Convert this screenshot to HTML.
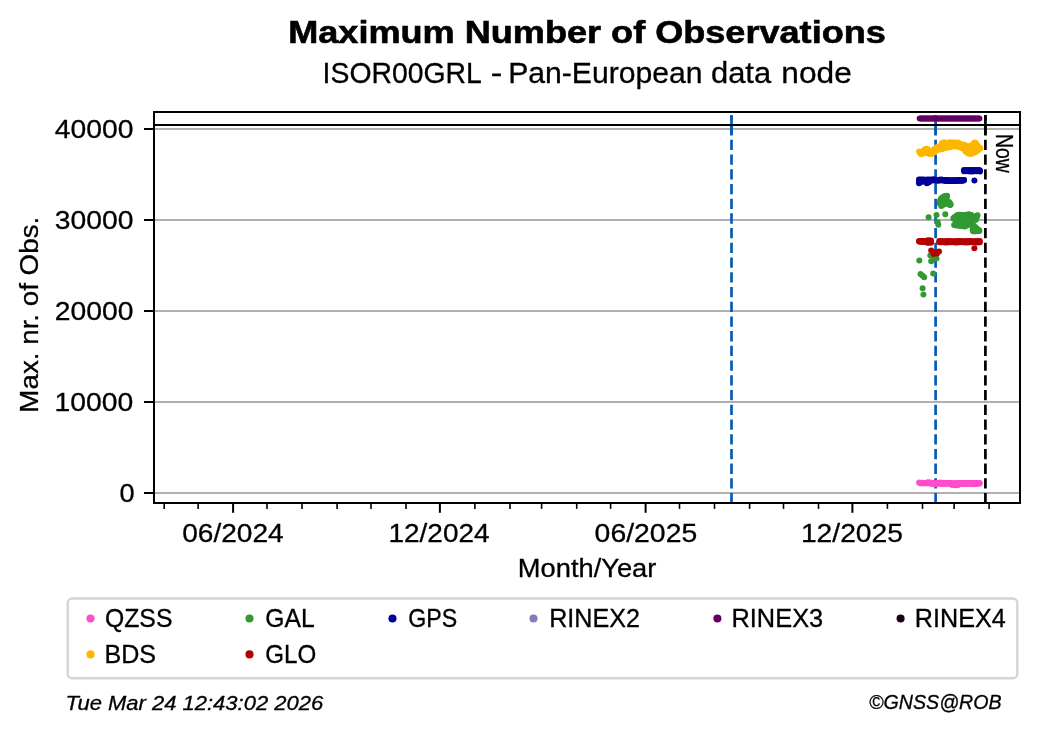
<!DOCTYPE html>
<html><head><meta charset="utf-8"><title>Maximum Number of Observations</title>
<style>html,body{margin:0;padding:0;background:#fff;}svg{display:block;will-change:transform;}</style></head>
<body>
<svg width="1040" height="734" viewBox="0 0 1040 734">
<rect width="1040" height="734" fill="#fff"/>
<g font-family="Liberation Sans, sans-serif" fill="#000">
<text transform="translate(288.21,42.9) scale(1.1431,1)" font-size="31.59" font-weight="bold" stroke="#000" stroke-width="0.6">Maximum Number of Observations</text>
<text transform="translate(322.59,82.8) scale(0.9373,1)" font-size="30.29" stroke="#000" stroke-width="0.3">ISOR00GRL</text>
<text transform="translate(490.65,82.8) scale(1.15,1)" font-size="30.29" stroke="#000" stroke-width="0.3">-</text>
<text transform="translate(508.21,82.8) scale(0.9953,1)" font-size="30.29" stroke="#000" stroke-width="0.3">Pan-European</text>
<text transform="translate(710.98,82.8) scale(1.0207,1)" font-size="30.29" stroke="#000" stroke-width="0.3">data</text>
<text transform="translate(781.31,82.8) scale(1.0469,1)" font-size="30.29" stroke="#000" stroke-width="0.3">node</text>
<line x1="154" y1="129" x2="1020" y2="129" stroke="#b0b0b0" stroke-width="2.2"/>
<line x1="154" y1="220" x2="1020" y2="220" stroke="#b0b0b0" stroke-width="2.2"/>
<line x1="154" y1="311" x2="1020" y2="311" stroke="#b0b0b0" stroke-width="2.2"/>
<line x1="154" y1="402" x2="1020" y2="402" stroke="#b0b0b0" stroke-width="2.2"/>
<line x1="154" y1="493" x2="1020" y2="493" stroke="#b0b0b0" stroke-width="2.2"/>
<line x1="731.5" y1="503.32" x2="731.5" y2="115.2" stroke="#065bb5" stroke-width="2.7" stroke-dasharray="10.28 4.44"/><line x1="731.5" y1="115.2" x2="731.5" y2="135.32" stroke="#065bb5" stroke-width="2.7"/>
<line x1="935.6" y1="503.32" x2="935.6" y2="115.2" stroke="#065bb5" stroke-width="2.7" stroke-dasharray="10.28 4.44"/><line x1="935.6" y1="115.2" x2="935.6" y2="135.32" stroke="#065bb5" stroke-width="2.7"/>
<line x1="985.4" y1="503.32" x2="985.4" y2="115.2" stroke="#000" stroke-width="2.7" stroke-dasharray="10.28 4.44"/><line x1="985.4" y1="115.2" x2="985.4" y2="135.32" stroke="#000" stroke-width="2.7"/>
<g fill="#ff4ccc"><circle cx="919.1" cy="482.5" r="3.0"/><circle cx="920.2" cy="483.2" r="3.0"/><circle cx="921.3" cy="482.7" r="3.0"/><circle cx="922.5" cy="483.4" r="3.0"/><circle cx="923.6" cy="482.7" r="3.0"/><circle cx="924.7" cy="483.1" r="3.0"/><circle cx="925.8" cy="483.4" r="3.0"/><circle cx="926.9" cy="482.7" r="3.0"/><circle cx="928.1" cy="483.3" r="3.0"/><circle cx="928.1" cy="482.3" r="3.0"/><circle cx="929.2" cy="482.8" r="3.0"/><circle cx="929.2" cy="483.0" r="3.0"/><circle cx="930.3" cy="483.5" r="3.0"/><circle cx="930.3" cy="482.4" r="3.0"/><circle cx="931.4" cy="483.1" r="3.0"/><circle cx="931.4" cy="483.4" r="3.0"/><circle cx="932.5" cy="483.8" r="3.0"/><circle cx="932.5" cy="483.2" r="3.0"/><circle cx="933.7" cy="483.0" r="3.0"/><circle cx="933.7" cy="483.0" r="3.0"/><circle cx="934.8" cy="483.5" r="3.0"/><circle cx="934.8" cy="484.0" r="3.0"/><circle cx="935.9" cy="483.8" r="3.0"/><circle cx="935.9" cy="483.3" r="3.0"/><circle cx="937.0" cy="483.0" r="3.0"/><circle cx="937.0" cy="483.8" r="3.0"/><circle cx="938.1" cy="483.6" r="3.0"/><circle cx="938.1" cy="482.9" r="3.0"/><circle cx="939.3" cy="483.0" r="3.0"/><circle cx="939.3" cy="483.3" r="3.0"/><circle cx="940.4" cy="483.7" r="3.0"/><circle cx="940.4" cy="482.5" r="3.0"/><circle cx="941.5" cy="483.2" r="3.0"/><circle cx="941.5" cy="483.3" r="3.0"/><circle cx="942.6" cy="483.9" r="3.0"/><circle cx="942.6" cy="483.0" r="3.0"/><circle cx="943.7" cy="483.1" r="3.0"/><circle cx="943.7" cy="482.7" r="3.0"/><circle cx="944.9" cy="483.5" r="3.0"/><circle cx="944.9" cy="483.5" r="3.0"/><circle cx="946.0" cy="483.8" r="3.0"/><circle cx="946.0" cy="482.9" r="3.0"/><circle cx="947.1" cy="483.0" r="3.0"/><circle cx="947.1" cy="483.5" r="3.0"/><circle cx="948.2" cy="483.6" r="3.0"/><circle cx="948.2" cy="482.9" r="3.0"/><circle cx="949.4" cy="483.0" r="3.0"/><circle cx="949.4" cy="483.4" r="3.0"/><circle cx="950.5" cy="483.7" r="3.0"/><circle cx="950.5" cy="483.1" r="3.0"/><circle cx="951.6" cy="483.2" r="3.0"/><circle cx="951.6" cy="484.8" r="3.0"/><circle cx="952.7" cy="483.9" r="3.0"/><circle cx="952.7" cy="484.7" r="3.0"/><circle cx="953.8" cy="483.1" r="3.0"/><circle cx="953.8" cy="484.4" r="3.0"/><circle cx="955.0" cy="483.5" r="3.0"/><circle cx="955.0" cy="485.2" r="3.0"/><circle cx="956.1" cy="483.8" r="3.0"/><circle cx="956.1" cy="484.6" r="3.0"/><circle cx="957.2" cy="483.0" r="3.0"/><circle cx="957.2" cy="485.2" r="3.0"/><circle cx="958.3" cy="483.6" r="3.0"/><circle cx="958.3" cy="484.5" r="3.0"/><circle cx="959.4" cy="483.0" r="3.0"/><circle cx="959.4" cy="484.3" r="3.0"/><circle cx="960.6" cy="483.7" r="3.0"/><circle cx="960.6" cy="482.9" r="3.0"/><circle cx="961.7" cy="483.2" r="3.0"/><circle cx="961.7" cy="483.7" r="3.0"/><circle cx="962.8" cy="483.9" r="3.0"/><circle cx="962.8" cy="483.3" r="3.0"/><circle cx="963.9" cy="483.1" r="3.0"/><circle cx="963.9" cy="483.0" r="3.0"/><circle cx="965.0" cy="483.5" r="3.0"/><circle cx="965.0" cy="483.8" r="3.0"/><circle cx="966.2" cy="483.8" r="3.0"/><circle cx="966.2" cy="483.2" r="3.0"/><circle cx="967.3" cy="483.0" r="3.0"/><circle cx="967.3" cy="483.8" r="3.0"/><circle cx="968.4" cy="483.6" r="3.0"/><circle cx="968.4" cy="483.1" r="3.0"/><circle cx="969.5" cy="483.0" r="3.0"/><circle cx="969.5" cy="483.6" r="3.0"/><circle cx="970.6" cy="483.7" r="3.0"/><circle cx="970.6" cy="482.9" r="3.0"/><circle cx="971.8" cy="483.2" r="3.0"/><circle cx="971.8" cy="483.7" r="3.0"/><circle cx="972.9" cy="483.9" r="3.0"/><circle cx="972.9" cy="483.3" r="3.0"/><circle cx="974.0" cy="483.1" r="3.0"/><circle cx="974.0" cy="483.0" r="3.0"/><circle cx="975.1" cy="483.5" r="3.0"/><circle cx="975.1" cy="483.8" r="3.0"/><circle cx="976.2" cy="483.8" r="3.0"/><circle cx="976.2" cy="483.2" r="3.0"/><circle cx="977.4" cy="483.0" r="3.0"/><circle cx="977.4" cy="483.8" r="3.0"/><circle cx="978.5" cy="483.6" r="3.0"/><circle cx="978.5" cy="483.1" r="3.0"/><circle cx="979.6" cy="483.0" r="3.0"/><circle cx="979.6" cy="483.6" r="3.0"/></g>
<g fill="#fdb700"><circle cx="919.1" cy="151.6" r="3.0"/><circle cx="920.2" cy="151.9" r="3.0"/><circle cx="920.2" cy="152.7" r="3.0"/><circle cx="920.2" cy="153.3" r="3.0"/><circle cx="921.4" cy="151.9" r="3.0"/><circle cx="921.4" cy="153.1" r="3.0"/><circle cx="921.4" cy="154.3" r="3.0"/><circle cx="922.5" cy="152.3" r="3.0"/><circle cx="922.5" cy="152.9" r="3.0"/><circle cx="922.5" cy="153.8" r="3.0"/><circle cx="923.6" cy="150.2" r="3.0"/><circle cx="923.6" cy="151.9" r="3.0"/><circle cx="923.6" cy="152.8" r="3.0"/><circle cx="924.8" cy="149.6" r="3.0"/><circle cx="924.8" cy="151.0" r="3.0"/><circle cx="924.8" cy="152.8" r="3.0"/><circle cx="925.9" cy="149.1" r="3.0"/><circle cx="925.9" cy="150.1" r="3.0"/><circle cx="925.9" cy="151.4" r="3.0"/><circle cx="927.0" cy="148.8" r="3.0"/><circle cx="927.0" cy="150.8" r="3.0"/><circle cx="927.0" cy="152.9" r="3.0"/><circle cx="928.2" cy="150.2" r="3.0"/><circle cx="928.2" cy="151.7" r="3.0"/><circle cx="928.2" cy="153.2" r="3.0"/><circle cx="929.3" cy="150.7" r="3.0"/><circle cx="929.3" cy="152.5" r="3.0"/><circle cx="929.3" cy="154.1" r="3.0"/><circle cx="930.4" cy="152.5" r="3.0"/><circle cx="930.4" cy="153.1" r="3.0"/><circle cx="930.4" cy="153.6" r="3.0"/><circle cx="931.5" cy="152.6" r="3.0"/><circle cx="931.5" cy="154.0" r="3.0"/><circle cx="932.7" cy="151.8" r="3.0"/><circle cx="932.7" cy="152.1" r="3.0"/><circle cx="932.7" cy="152.9" r="3.0"/><circle cx="933.8" cy="149.4" r="3.0"/><circle cx="933.8" cy="151.0" r="3.0"/><circle cx="933.8" cy="152.0" r="3.0"/><circle cx="934.9" cy="148.7" r="3.0"/><circle cx="934.9" cy="150.0" r="3.0"/><circle cx="934.9" cy="151.8" r="3.0"/><circle cx="936.1" cy="148.1" r="3.0"/><circle cx="936.1" cy="149.0" r="3.0"/><circle cx="936.1" cy="150.1" r="3.0"/><circle cx="937.2" cy="147.0" r="3.0"/><circle cx="937.2" cy="148.6" r="3.0"/><circle cx="937.2" cy="150.3" r="3.0"/><circle cx="938.3" cy="147.3" r="3.0"/><circle cx="938.3" cy="148.3" r="3.0"/><circle cx="938.3" cy="149.2" r="3.0"/><circle cx="939.5" cy="146.5" r="3.0"/><circle cx="939.5" cy="148.0" r="3.0"/><circle cx="939.5" cy="149.4" r="3.0"/><circle cx="940.6" cy="145.9" r="3.0"/><circle cx="940.6" cy="147.3" r="3.0"/><circle cx="940.6" cy="148.5" r="3.0"/><circle cx="941.7" cy="143.2" r="3.0"/><circle cx="941.7" cy="145.1" r="3.0"/><circle cx="941.7" cy="147.2" r="3.0"/><circle cx="941.7" cy="149.2" r="3.0"/><circle cx="942.9" cy="143.2" r="3.0"/><circle cx="942.9" cy="144.5" r="3.0"/><circle cx="942.9" cy="146.7" r="3.0"/><circle cx="942.9" cy="148.4" r="3.0"/><circle cx="944.0" cy="142.2" r="3.0"/><circle cx="944.0" cy="144.2" r="3.0"/><circle cx="944.0" cy="146.3" r="3.0"/><circle cx="944.0" cy="147.6" r="3.0"/><circle cx="945.1" cy="143.4" r="3.0"/><circle cx="945.1" cy="144.7" r="3.0"/><circle cx="945.1" cy="146.5" r="3.0"/><circle cx="945.1" cy="148.3" r="3.0"/><circle cx="946.3" cy="144.2" r="3.0"/><circle cx="946.3" cy="145.8" r="3.0"/><circle cx="946.3" cy="147.5" r="3.0"/><circle cx="947.4" cy="143.0" r="3.0"/><circle cx="947.4" cy="145.3" r="3.0"/><circle cx="947.4" cy="147.6" r="3.0"/><circle cx="948.5" cy="143.2" r="3.0"/><circle cx="948.5" cy="145.0" r="3.0"/><circle cx="948.5" cy="146.7" r="3.0"/><circle cx="949.7" cy="142.3" r="3.0"/><circle cx="949.7" cy="144.0" r="3.0"/><circle cx="949.7" cy="145.7" r="3.0"/><circle cx="949.7" cy="147.2" r="3.0"/><circle cx="950.8" cy="142.9" r="3.0"/><circle cx="950.8" cy="144.6" r="3.0"/><circle cx="950.8" cy="146.2" r="3.0"/><circle cx="951.9" cy="142.4" r="3.0"/><circle cx="951.9" cy="144.4" r="3.0"/><circle cx="951.9" cy="146.5" r="3.0"/><circle cx="953.0" cy="143.2" r="3.0"/><circle cx="953.0" cy="144.3" r="3.0"/><circle cx="953.0" cy="145.9" r="3.0"/><circle cx="954.2" cy="142.5" r="3.0"/><circle cx="954.2" cy="144.3" r="3.0"/><circle cx="954.2" cy="145.4" r="3.0"/><circle cx="955.3" cy="142.8" r="3.0"/><circle cx="955.3" cy="144.4" r="3.0"/><circle cx="955.3" cy="146.5" r="3.0"/><circle cx="956.4" cy="143.1" r="3.0"/><circle cx="956.4" cy="144.4" r="3.0"/><circle cx="956.4" cy="146.0" r="3.0"/><circle cx="957.6" cy="142.4" r="3.0"/><circle cx="957.6" cy="144.5" r="3.0"/><circle cx="957.6" cy="146.6" r="3.0"/><circle cx="958.7" cy="143.5" r="3.0"/><circle cx="958.7" cy="144.9" r="3.0"/><circle cx="958.7" cy="146.3" r="3.0"/><circle cx="959.8" cy="143.5" r="3.0"/><circle cx="959.8" cy="145.5" r="3.0"/><circle cx="959.8" cy="147.3" r="3.0"/><circle cx="961.0" cy="144.7" r="3.0"/><circle cx="961.0" cy="146.0" r="3.0"/><circle cx="961.0" cy="147.0" r="3.0"/><circle cx="962.1" cy="144.6" r="3.0"/><circle cx="962.1" cy="146.4" r="3.0"/><circle cx="962.1" cy="148.2" r="3.0"/><circle cx="963.2" cy="145.4" r="3.0"/><circle cx="963.2" cy="146.7" r="3.0"/><circle cx="963.2" cy="148.4" r="3.0"/><circle cx="964.4" cy="144.8" r="3.0"/><circle cx="964.4" cy="146.4" r="3.0"/><circle cx="964.4" cy="148.1" r="3.0"/><circle cx="964.4" cy="149.0" r="3.0"/><circle cx="965.5" cy="145.6" r="3.0"/><circle cx="965.5" cy="147.2" r="3.0"/><circle cx="965.5" cy="149.3" r="3.0"/><circle cx="965.5" cy="151.4" r="3.0"/><circle cx="966.6" cy="146.3" r="3.0"/><circle cx="966.6" cy="147.9" r="3.0"/><circle cx="966.6" cy="150.2" r="3.0"/><circle cx="966.6" cy="151.9" r="3.0"/><circle cx="967.8" cy="145.9" r="3.0"/><circle cx="967.8" cy="148.4" r="3.0"/><circle cx="967.8" cy="150.9" r="3.0"/><circle cx="967.8" cy="153.3" r="3.0"/><circle cx="968.9" cy="146.7" r="3.0"/><circle cx="968.9" cy="148.1" r="3.0"/><circle cx="968.9" cy="150.0" r="3.0"/><circle cx="968.9" cy="151.9" r="3.0"/><circle cx="968.9" cy="153.1" r="3.0"/><circle cx="970.0" cy="146.3" r="3.0"/><circle cx="970.0" cy="148.3" r="3.0"/><circle cx="970.0" cy="150.2" r="3.0"/><circle cx="970.0" cy="152.2" r="3.0"/><circle cx="970.0" cy="154.0" r="3.0"/><circle cx="971.1" cy="146.3" r="3.0"/><circle cx="971.1" cy="147.6" r="3.0"/><circle cx="971.1" cy="149.7" r="3.0"/><circle cx="971.1" cy="151.7" r="3.0"/><circle cx="971.1" cy="152.9" r="3.0"/><circle cx="972.3" cy="144.8" r="3.0"/><circle cx="972.3" cy="146.8" r="3.0"/><circle cx="972.3" cy="149.0" r="3.0"/><circle cx="972.3" cy="151.2" r="3.0"/><circle cx="972.3" cy="153.4" r="3.0"/><circle cx="973.4" cy="143.9" r="3.0"/><circle cx="973.4" cy="145.1" r="3.0"/><circle cx="973.4" cy="147.1" r="3.0"/><circle cx="973.4" cy="149.2" r="3.0"/><circle cx="973.4" cy="151.2" r="3.0"/><circle cx="973.4" cy="152.8" r="3.0"/><circle cx="974.5" cy="142.4" r="3.0"/><circle cx="974.5" cy="144.4" r="3.0"/><circle cx="974.5" cy="146.5" r="3.0"/><circle cx="974.5" cy="148.6" r="3.0"/><circle cx="974.5" cy="150.7" r="3.0"/><circle cx="974.5" cy="152.0" r="3.0"/><circle cx="975.7" cy="142.9" r="3.0"/><circle cx="975.7" cy="144.8" r="3.0"/><circle cx="975.7" cy="147.2" r="3.0"/><circle cx="975.7" cy="149.6" r="3.0"/><circle cx="975.7" cy="152.0" r="3.0"/><circle cx="976.8" cy="144.7" r="3.0"/><circle cx="976.8" cy="146.3" r="3.0"/><circle cx="976.8" cy="148.8" r="3.0"/><circle cx="976.8" cy="150.6" r="3.0"/><circle cx="977.9" cy="145.9" r="3.0"/><circle cx="977.9" cy="148.2" r="3.0"/><circle cx="977.9" cy="150.4" r="3.0"/><circle cx="979.1" cy="147.7" r="3.0"/><circle cx="979.1" cy="148.8" r="3.0"/><circle cx="980.2" cy="148.2" r="3.0"/><circle cx="980.2" cy="148.4" r="3.0"/></g>
<g fill="#339933"><circle cx="947.1" cy="196.0" r="3.0"/><circle cx="947.3" cy="201.0" r="3.0"/><circle cx="948.8" cy="201.9" r="3.0"/><circle cx="949.7" cy="203.0" r="3.0"/><circle cx="950.4" cy="204.7" r="3.0"/><circle cx="950.1" cy="205.1" r="3.0"/><circle cx="949.7" cy="204.4" r="3.0"/><circle cx="944.9" cy="203.5" r="3.0"/><circle cx="943.2" cy="204.7" r="3.0"/><circle cx="941.4" cy="205.9" r="3.0"/><circle cx="941.2" cy="204.9" r="3.0"/><circle cx="940.0" cy="203.6" r="3.0"/><circle cx="939.9" cy="203.0" r="3.0"/><circle cx="940.2" cy="201.2" r="3.0"/><circle cx="940.6" cy="199.4" r="3.0"/><circle cx="941.1" cy="198.5" r="3.0"/><circle cx="942.4" cy="197.6" r="3.0"/><circle cx="943.2" cy="197.0" r="3.0"/><circle cx="944.9" cy="196.3" r="3.0"/><circle cx="946.6" cy="195.7" r="3.0"/><circle cx="944.6" cy="196.2" r="3.0"/><circle cx="946.6" cy="196.2" r="3.0"/><circle cx="942.6" cy="198.2" r="3.0"/><circle cx="944.6" cy="198.2" r="3.0"/><circle cx="940.6" cy="200.2" r="3.0"/><circle cx="942.6" cy="200.2" r="3.0"/><circle cx="944.6" cy="200.2" r="3.0"/><circle cx="946.6" cy="200.2" r="3.0"/><circle cx="940.6" cy="202.2" r="3.0"/><circle cx="942.6" cy="202.2" r="3.0"/><circle cx="944.6" cy="202.2" r="3.0"/><circle cx="946.6" cy="202.2" r="3.0"/><circle cx="948.6" cy="202.2" r="3.0"/><circle cx="940.6" cy="204.2" r="3.0"/><circle cx="942.6" cy="204.2" r="3.0"/><circle cx="944.6" cy="204.2" r="3.0"/><circle cx="948.6" cy="204.2" r="3.0"/><circle cx="950.6" cy="204.2" r="3.0"/><circle cx="928.6" cy="217.3" r="3.0"/><circle cx="936.5" cy="215.1" r="3.0"/><circle cx="945.3" cy="214.3" r="3.0"/><circle cx="937.6" cy="222.0" r="3.0"/><circle cx="938.3" cy="224.8" r="3.0"/><circle cx="953.3" cy="218.6" r="3.0"/><circle cx="954.1" cy="217.4" r="3.0"/><circle cx="955.5" cy="216.5" r="3.0"/><circle cx="957.0" cy="215.6" r="3.0"/><circle cx="958.4" cy="214.7" r="3.0"/><circle cx="960.0" cy="214.7" r="3.0"/><circle cx="963.2" cy="215.2" r="3.0"/><circle cx="965.0" cy="215.0" r="3.0"/><circle cx="966.8" cy="214.8" r="3.0"/><circle cx="968.7" cy="214.7" r="3.0"/><circle cx="968.9" cy="214.2" r="3.0"/><circle cx="970.6" cy="215.0" r="3.0"/><circle cx="972.3" cy="215.8" r="3.0"/><circle cx="976.9" cy="216.2" r="3.0"/><circle cx="976.5" cy="217.2" r="3.0"/><circle cx="976.3" cy="218.9" r="3.0"/><circle cx="975.4" cy="220.1" r="3.0"/><circle cx="973.6" cy="226.1" r="3.0"/><circle cx="975.0" cy="227.3" r="3.0"/><circle cx="976.4" cy="228.4" r="3.0"/><circle cx="977.8" cy="229.5" r="3.0"/><circle cx="979.2" cy="230.7" r="3.0"/><circle cx="979.1" cy="230.7" r="3.0"/><circle cx="979.3" cy="230.6" r="3.0"/><circle cx="977.5" cy="230.9" r="3.0"/><circle cx="975.7" cy="231.1" r="3.0"/><circle cx="973.9" cy="231.3" r="3.0"/><circle cx="973.1" cy="230.9" r="3.0"/><circle cx="972.6" cy="229.6" r="3.0"/><circle cx="968.6" cy="224.4" r="3.0"/><circle cx="966.8" cy="225.2" r="3.0"/><circle cx="965.1" cy="226.0" r="3.0"/><circle cx="965.0" cy="226.5" r="3.0"/><circle cx="963.2" cy="226.3" r="3.0"/><circle cx="961.5" cy="226.0" r="3.0"/><circle cx="959.7" cy="225.7" r="3.0"/><circle cx="957.9" cy="225.4" r="3.0"/><circle cx="956.0" cy="225.2" r="3.0"/><circle cx="954.1" cy="224.9" r="3.0"/><circle cx="955.6" cy="220.0" r="3.0"/><circle cx="954.2" cy="218.8" r="3.0"/><circle cx="957.5" cy="215.3" r="3.0"/><circle cx="959.5" cy="215.3" r="3.0"/><circle cx="961.5" cy="215.3" r="3.0"/><circle cx="963.5" cy="215.3" r="3.0"/><circle cx="965.5" cy="215.3" r="3.0"/><circle cx="967.5" cy="215.3" r="3.0"/><circle cx="969.5" cy="215.3" r="3.0"/><circle cx="971.5" cy="215.3" r="3.0"/><circle cx="977.5" cy="215.3" r="3.0"/><circle cx="955.5" cy="217.3" r="3.0"/><circle cx="957.5" cy="217.3" r="3.0"/><circle cx="959.5" cy="217.3" r="3.0"/><circle cx="961.5" cy="217.3" r="3.0"/><circle cx="963.5" cy="217.3" r="3.0"/><circle cx="965.5" cy="217.3" r="3.0"/><circle cx="967.5" cy="217.3" r="3.0"/><circle cx="969.5" cy="217.3" r="3.0"/><circle cx="971.5" cy="217.3" r="3.0"/><circle cx="973.5" cy="217.3" r="3.0"/><circle cx="975.5" cy="217.3" r="3.0"/><circle cx="955.5" cy="219.3" r="3.0"/><circle cx="957.5" cy="219.3" r="3.0"/><circle cx="959.5" cy="219.3" r="3.0"/><circle cx="961.5" cy="219.3" r="3.0"/><circle cx="963.5" cy="219.3" r="3.0"/><circle cx="965.5" cy="219.3" r="3.0"/><circle cx="967.5" cy="219.3" r="3.0"/><circle cx="969.5" cy="219.3" r="3.0"/><circle cx="971.5" cy="219.3" r="3.0"/><circle cx="973.5" cy="219.3" r="3.0"/><circle cx="975.5" cy="219.3" r="3.0"/><circle cx="957.5" cy="221.3" r="3.0"/><circle cx="959.5" cy="221.3" r="3.0"/><circle cx="961.5" cy="221.3" r="3.0"/><circle cx="963.5" cy="221.3" r="3.0"/><circle cx="965.5" cy="221.3" r="3.0"/><circle cx="967.5" cy="221.3" r="3.0"/><circle cx="969.5" cy="221.3" r="3.0"/><circle cx="971.5" cy="221.3" r="3.0"/><circle cx="973.5" cy="221.3" r="3.0"/><circle cx="957.5" cy="223.3" r="3.0"/><circle cx="959.5" cy="223.3" r="3.0"/><circle cx="961.5" cy="223.3" r="3.0"/><circle cx="963.5" cy="223.3" r="3.0"/><circle cx="965.5" cy="223.3" r="3.0"/><circle cx="967.5" cy="223.3" r="3.0"/><circle cx="969.5" cy="223.3" r="3.0"/><circle cx="971.5" cy="223.3" r="3.0"/><circle cx="955.5" cy="225.3" r="3.0"/><circle cx="957.5" cy="225.3" r="3.0"/><circle cx="959.5" cy="225.3" r="3.0"/><circle cx="961.5" cy="225.3" r="3.0"/><circle cx="963.5" cy="225.3" r="3.0"/><circle cx="965.5" cy="225.3" r="3.0"/><circle cx="967.5" cy="225.3" r="3.0"/><circle cx="973.5" cy="227.3" r="3.0"/><circle cx="975.5" cy="227.3" r="3.0"/><circle cx="973.5" cy="229.3" r="3.0"/><circle cx="975.5" cy="229.3" r="3.0"/><circle cx="977.5" cy="229.3" r="3.0"/><circle cx="973.5" cy="231.3" r="3.0"/><circle cx="975.5" cy="231.3" r="3.0"/><circle cx="977.5" cy="231.3" r="3.0"/><circle cx="927.5" cy="240.5" r="3.0"/><circle cx="927.5" cy="243.0" r="3.0"/><circle cx="930.3" cy="255.5" r="3.0"/><circle cx="935.3" cy="258.0" r="3.0"/><circle cx="931.2" cy="261.3" r="3.0"/><circle cx="936.5" cy="258.4" r="3.0"/><circle cx="933.8" cy="257.0" r="3.0"/><circle cx="919.3" cy="260.4" r="3.0"/><circle cx="933.2" cy="273.5" r="3.0"/><circle cx="920.5" cy="274.0" r="3.0"/><circle cx="922.3" cy="275.6" r="3.0"/><circle cx="924.2" cy="277.2" r="3.0"/><circle cx="922.6" cy="288.2" r="3.0"/><circle cx="923.4" cy="294.4" r="3.0"/></g>
<g fill="#b40000"><circle cx="919.1" cy="241.1" r="3.0"/><circle cx="919.1" cy="241.6" r="3.0"/><circle cx="920.2" cy="241.8" r="3.0"/><circle cx="920.2" cy="240.9" r="3.0"/><circle cx="921.3" cy="241.3" r="3.0"/><circle cx="921.3" cy="241.7" r="3.0"/><circle cx="922.3" cy="242.0" r="3.0"/><circle cx="922.3" cy="241.3" r="3.0"/><circle cx="923.4" cy="241.2" r="3.0"/><circle cx="923.4" cy="241.0" r="3.0"/><circle cx="924.5" cy="241.6" r="3.0"/><circle cx="924.5" cy="241.8" r="3.0"/><circle cx="925.6" cy="241.9" r="3.0"/><circle cx="925.6" cy="241.2" r="3.0"/><circle cx="926.7" cy="240.8" r="3.0"/><circle cx="926.7" cy="242.1" r="3.0"/><circle cx="927.8" cy="240.9" r="3.0"/><circle cx="927.8" cy="242.0" r="3.0"/><circle cx="928.8" cy="240.2" r="3.0"/><circle cx="928.8" cy="241.5" r="3.0"/><circle cx="928.8" cy="242.6" r="3.0"/><circle cx="929.9" cy="240.9" r="3.0"/><circle cx="929.9" cy="241.5" r="3.0"/><circle cx="929.9" cy="241.9" r="3.0"/><circle cx="931.0" cy="240.4" r="3.0"/><circle cx="931.0" cy="241.5" r="3.0"/><circle cx="931.0" cy="242.7" r="3.0"/><circle cx="939.3" cy="241.1" r="3.0"/><circle cx="939.3" cy="242.2" r="3.0"/><circle cx="940.4" cy="241.8" r="3.0"/><circle cx="940.4" cy="241.5" r="3.0"/><circle cx="941.5" cy="241.3" r="3.0"/><circle cx="941.5" cy="242.3" r="3.0"/><circle cx="942.7" cy="242.0" r="3.0"/><circle cx="942.7" cy="241.9" r="3.0"/><circle cx="943.8" cy="241.2" r="3.0"/><circle cx="943.8" cy="241.6" r="3.0"/><circle cx="944.9" cy="241.6" r="3.0"/><circle cx="944.9" cy="242.4" r="3.0"/><circle cx="946.0" cy="241.9" r="3.0"/><circle cx="946.0" cy="241.8" r="3.0"/><circle cx="947.2" cy="241.1" r="3.0"/><circle cx="947.2" cy="242.4" r="3.0"/><circle cx="948.3" cy="241.7" r="3.0"/><circle cx="948.3" cy="241.7" r="3.0"/><circle cx="949.4" cy="241.1" r="3.0"/><circle cx="949.4" cy="242.2" r="3.0"/><circle cx="950.5" cy="241.8" r="3.0"/><circle cx="950.5" cy="241.5" r="3.0"/><circle cx="951.7" cy="241.3" r="3.0"/><circle cx="951.7" cy="242.3" r="3.0"/><circle cx="952.8" cy="242.0" r="3.0"/><circle cx="952.8" cy="241.9" r="3.0"/><circle cx="953.9" cy="241.2" r="3.0"/><circle cx="953.9" cy="241.6" r="3.0"/><circle cx="955.0" cy="241.6" r="3.0"/><circle cx="955.0" cy="242.4" r="3.0"/><circle cx="956.2" cy="241.9" r="3.0"/><circle cx="956.2" cy="241.8" r="3.0"/><circle cx="957.3" cy="241.1" r="3.0"/><circle cx="957.3" cy="242.4" r="3.0"/><circle cx="958.4" cy="241.7" r="3.0"/><circle cx="958.4" cy="241.7" r="3.0"/><circle cx="959.5" cy="241.1" r="3.0"/><circle cx="959.5" cy="242.2" r="3.0"/><circle cx="960.7" cy="241.8" r="3.0"/><circle cx="960.7" cy="241.5" r="3.0"/><circle cx="961.8" cy="241.3" r="3.0"/><circle cx="961.8" cy="242.3" r="3.0"/><circle cx="962.9" cy="242.0" r="3.0"/><circle cx="962.9" cy="241.9" r="3.0"/><circle cx="964.0" cy="241.2" r="3.0"/><circle cx="964.0" cy="241.6" r="3.0"/><circle cx="965.2" cy="241.6" r="3.0"/><circle cx="965.2" cy="242.4" r="3.0"/><circle cx="966.3" cy="241.9" r="3.0"/><circle cx="966.3" cy="241.8" r="3.0"/><circle cx="967.4" cy="241.1" r="3.0"/><circle cx="967.4" cy="242.4" r="3.0"/><circle cx="968.5" cy="241.7" r="3.0"/><circle cx="968.5" cy="241.7" r="3.0"/><circle cx="969.7" cy="241.1" r="3.0"/><circle cx="969.7" cy="242.2" r="3.0"/><circle cx="970.8" cy="241.8" r="3.0"/><circle cx="970.8" cy="241.5" r="3.0"/><circle cx="971.9" cy="241.3" r="3.0"/><circle cx="971.9" cy="242.3" r="3.0"/><circle cx="973.0" cy="242.0" r="3.0"/><circle cx="973.0" cy="241.9" r="3.0"/><circle cx="974.2" cy="241.2" r="3.0"/><circle cx="974.2" cy="241.6" r="3.0"/><circle cx="975.3" cy="241.6" r="3.0"/><circle cx="975.3" cy="242.4" r="3.0"/><circle cx="976.4" cy="241.9" r="3.0"/><circle cx="976.4" cy="241.8" r="3.0"/><circle cx="977.5" cy="241.1" r="3.0"/><circle cx="977.5" cy="242.4" r="3.0"/><circle cx="978.7" cy="241.7" r="3.0"/><circle cx="978.7" cy="241.7" r="3.0"/><circle cx="979.8" cy="241.1" r="3.0"/><circle cx="979.8" cy="242.2" r="3.0"/><circle cx="974.4" cy="248.3" r="3.0"/><circle cx="931.2" cy="250.6" r="3.0"/><circle cx="935.3" cy="252.3" r="3.0"/><circle cx="939.0" cy="251.4" r="3.0"/><circle cx="933.6" cy="253.9" r="3.0"/><circle cx="937.0" cy="253.5" r="3.0"/></g>
<g fill="#000096"><circle cx="919.0" cy="179.6" r="3.0"/><circle cx="919.0" cy="181.5" r="3.0"/><circle cx="919.0" cy="183.2" r="3.0"/><circle cx="920.1" cy="179.8" r="3.0"/><circle cx="920.1" cy="181.2" r="3.0"/><circle cx="920.1" cy="182.4" r="3.0"/><circle cx="921.2" cy="179.4" r="3.0"/><circle cx="921.2" cy="180.6" r="3.0"/><circle cx="921.2" cy="181.9" r="3.0"/><circle cx="922.4" cy="180.3" r="3.0"/><circle cx="922.4" cy="180.5" r="3.0"/><circle cx="923.5" cy="179.6" r="3.0"/><circle cx="923.5" cy="179.8" r="3.0"/><circle cx="924.6" cy="180.0" r="3.0"/><circle cx="924.6" cy="181.3" r="3.0"/><circle cx="925.8" cy="180.1" r="3.0"/><circle cx="925.8" cy="181.1" r="3.0"/><circle cx="925.8" cy="182.2" r="3.0"/><circle cx="926.9" cy="179.4" r="3.0"/><circle cx="926.9" cy="181.3" r="3.0"/><circle cx="926.9" cy="183.2" r="3.0"/><circle cx="928.0" cy="180.2" r="3.0"/><circle cx="928.0" cy="181.4" r="3.0"/><circle cx="928.0" cy="182.5" r="3.0"/><circle cx="929.1" cy="179.4" r="3.0"/><circle cx="929.1" cy="180.8" r="3.0"/><circle cx="929.1" cy="182.0" r="3.0"/><circle cx="930.2" cy="180.0" r="3.0"/><circle cx="930.2" cy="180.4" r="3.0"/><circle cx="931.4" cy="179.6" r="3.0"/><circle cx="931.4" cy="180.6" r="3.0"/><circle cx="932.5" cy="180.3" r="3.0"/><circle cx="932.5" cy="179.9" r="3.0"/><circle cx="933.6" cy="179.4" r="3.0"/><circle cx="933.6" cy="179.6" r="3.0"/><circle cx="934.8" cy="180.1" r="3.0"/><circle cx="934.8" cy="180.4" r="3.0"/><circle cx="935.9" cy="180.8" r="3.0"/><circle cx="935.9" cy="179.8" r="3.0"/><circle cx="937.0" cy="180.0" r="3.0"/><circle cx="937.0" cy="180.5" r="3.0"/><circle cx="938.1" cy="180.6" r="3.0"/><circle cx="938.1" cy="179.9" r="3.0"/><circle cx="939.2" cy="179.7" r="3.0"/><circle cx="939.2" cy="180.4" r="3.0"/><circle cx="940.4" cy="180.2" r="3.0"/><circle cx="940.4" cy="179.7" r="3.0"/><circle cx="941.5" cy="179.6" r="3.0"/><circle cx="941.5" cy="180.3" r="3.0"/><circle cx="942.6" cy="180.4" r="3.0"/><circle cx="942.6" cy="180.0" r="3.0"/><circle cx="943.8" cy="180.0" r="3.0"/><circle cx="943.8" cy="179.9" r="3.0"/><circle cx="944.9" cy="180.5" r="3.0"/><circle cx="944.9" cy="180.8" r="3.0"/><circle cx="946.0" cy="180.9" r="3.0"/><circle cx="946.0" cy="180.2" r="3.0"/><circle cx="947.1" cy="180.1" r="3.0"/><circle cx="947.1" cy="180.9" r="3.0"/><circle cx="948.2" cy="180.7" r="3.0"/><circle cx="948.2" cy="180.3" r="3.0"/><circle cx="949.4" cy="180.2" r="3.0"/><circle cx="949.4" cy="180.9" r="3.0"/><circle cx="950.5" cy="180.9" r="3.0"/><circle cx="950.5" cy="180.2" r="3.0"/><circle cx="951.6" cy="180.4" r="3.0"/><circle cx="951.6" cy="181.0" r="3.0"/><circle cx="952.8" cy="181.0" r="3.0"/><circle cx="952.8" cy="180.5" r="3.0"/><circle cx="953.9" cy="180.2" r="3.0"/><circle cx="953.9" cy="180.2" r="3.0"/><circle cx="955.0" cy="180.6" r="3.0"/><circle cx="955.0" cy="181.0" r="3.0"/><circle cx="956.1" cy="180.9" r="3.0"/><circle cx="956.1" cy="180.4" r="3.0"/><circle cx="957.2" cy="180.0" r="3.0"/><circle cx="957.2" cy="180.9" r="3.0"/><circle cx="958.4" cy="180.6" r="3.0"/><circle cx="958.4" cy="180.2" r="3.0"/><circle cx="959.5" cy="180.0" r="3.0"/><circle cx="959.5" cy="180.7" r="3.0"/><circle cx="960.6" cy="180.6" r="3.0"/><circle cx="960.6" cy="179.9" r="3.0"/><circle cx="961.8" cy="180.1" r="3.0"/><circle cx="961.8" cy="180.7" r="3.0"/><circle cx="962.9" cy="180.8" r="3.0"/><circle cx="962.9" cy="180.3" r="3.0"/><circle cx="964.0" cy="180.0" r="3.0"/><circle cx="964.0" cy="180.0" r="3.0"/><circle cx="974.4" cy="180.5" r="3.0"/><circle cx="964.0" cy="169.9" r="3.0"/><circle cx="964.0" cy="171.2" r="3.0"/><circle cx="965.1" cy="170.6" r="3.0"/><circle cx="965.1" cy="170.5" r="3.0"/><circle cx="966.3" cy="170.1" r="3.0"/><circle cx="966.3" cy="171.3" r="3.0"/><circle cx="967.4" cy="170.8" r="3.0"/><circle cx="967.4" cy="170.9" r="3.0"/><circle cx="968.6" cy="170.0" r="3.0"/><circle cx="968.6" cy="170.6" r="3.0"/><circle cx="969.7" cy="170.4" r="3.0"/><circle cx="969.7" cy="171.4" r="3.0"/><circle cx="970.9" cy="170.7" r="3.0"/><circle cx="970.9" cy="170.8" r="3.0"/><circle cx="972.0" cy="169.9" r="3.0"/><circle cx="972.0" cy="171.4" r="3.0"/><circle cx="973.1" cy="170.5" r="3.0"/><circle cx="973.1" cy="170.7" r="3.0"/><circle cx="974.3" cy="169.9" r="3.0"/><circle cx="974.3" cy="171.2" r="3.0"/><circle cx="975.4" cy="170.6" r="3.0"/><circle cx="975.4" cy="170.5" r="3.0"/><circle cx="976.6" cy="170.1" r="3.0"/><circle cx="976.6" cy="171.3" r="3.0"/><circle cx="977.7" cy="170.8" r="3.0"/><circle cx="977.7" cy="170.9" r="3.0"/><circle cx="978.9" cy="170.0" r="3.0"/><circle cx="978.9" cy="170.6" r="3.0"/><circle cx="980.0" cy="170.4" r="3.0"/><circle cx="980.0" cy="171.4" r="3.0"/></g>
<g fill="#660066"><circle cx="919.7" cy="118.4" r="3.0"/><circle cx="920.8" cy="118.4" r="3.0"/><circle cx="922.0" cy="118.4" r="3.0"/><circle cx="923.1" cy="118.4" r="3.0"/><circle cx="924.2" cy="118.4" r="3.0"/><circle cx="925.3" cy="118.4" r="3.0"/><circle cx="926.5" cy="118.4" r="3.0"/><circle cx="927.6" cy="118.4" r="3.0"/><circle cx="928.7" cy="118.4" r="3.0"/><circle cx="929.8" cy="118.4" r="3.0"/><circle cx="931.0" cy="118.4" r="3.0"/><circle cx="932.1" cy="118.4" r="3.0"/><circle cx="933.2" cy="118.4" r="3.0"/><circle cx="934.3" cy="118.4" r="3.0"/><circle cx="935.5" cy="118.4" r="3.0"/><circle cx="936.6" cy="118.4" r="3.0"/><circle cx="937.7" cy="118.4" r="3.0"/><circle cx="938.8" cy="118.4" r="3.0"/><circle cx="940.0" cy="118.4" r="3.0"/><circle cx="941.1" cy="118.4" r="3.0"/><circle cx="942.2" cy="118.4" r="3.0"/><circle cx="943.4" cy="118.4" r="3.0"/><circle cx="944.5" cy="118.4" r="3.0"/><circle cx="945.6" cy="118.4" r="3.0"/><circle cx="946.7" cy="118.4" r="3.0"/><circle cx="947.9" cy="118.4" r="3.0"/><circle cx="949.0" cy="118.4" r="3.0"/><circle cx="950.1" cy="118.4" r="3.0"/><circle cx="951.2" cy="118.4" r="3.0"/><circle cx="952.4" cy="118.4" r="3.0"/><circle cx="953.5" cy="118.4" r="3.0"/><circle cx="954.6" cy="118.4" r="3.0"/><circle cx="955.7" cy="118.4" r="3.0"/><circle cx="956.9" cy="118.4" r="3.0"/><circle cx="958.0" cy="118.4" r="3.0"/><circle cx="959.1" cy="118.4" r="3.0"/><circle cx="960.3" cy="118.4" r="3.0"/><circle cx="961.4" cy="118.4" r="3.0"/><circle cx="962.5" cy="118.4" r="3.0"/><circle cx="963.6" cy="118.4" r="3.0"/><circle cx="964.8" cy="118.4" r="3.0"/><circle cx="965.9" cy="118.4" r="3.0"/><circle cx="967.0" cy="118.4" r="3.0"/><circle cx="968.1" cy="118.4" r="3.0"/><circle cx="969.3" cy="118.4" r="3.0"/><circle cx="970.4" cy="118.4" r="3.0"/><circle cx="971.5" cy="118.4" r="3.0"/><circle cx="972.6" cy="118.4" r="3.0"/><circle cx="973.8" cy="118.4" r="3.0"/><circle cx="974.9" cy="118.4" r="3.0"/><circle cx="976.0" cy="118.4" r="3.0"/><circle cx="977.1" cy="118.4" r="3.0"/><circle cx="978.3" cy="118.4" r="3.0"/><circle cx="979.4" cy="118.4" r="3.0"/></g>
<line x1="154" y1="125" x2="1020" y2="125" stroke="#000" stroke-width="2"/>
<rect x="154" y="112" width="866" height="391" fill="none" stroke="#000" stroke-width="2" stroke-linejoin="miter"/>
<line x1="144" y1="129" x2="154" y2="129" stroke="#000" stroke-width="2"/>
<line x1="144" y1="220" x2="154" y2="220" stroke="#000" stroke-width="2"/>
<line x1="144" y1="311" x2="154" y2="311" stroke="#000" stroke-width="2"/>
<line x1="144" y1="402" x2="154" y2="402" stroke="#000" stroke-width="2"/>
<line x1="144" y1="493" x2="154" y2="493" stroke="#000" stroke-width="2"/>
<line x1="164.2" y1="503" x2="164.2" y2="508.9" stroke="#000" stroke-width="1.6"/>
<line x1="198.1" y1="503" x2="198.1" y2="508.9" stroke="#000" stroke-width="1.6"/>
<line x1="233.1" y1="503" x2="233.1" y2="512.8" stroke="#000" stroke-width="2"/>
<line x1="267.0" y1="503" x2="267.0" y2="508.9" stroke="#000" stroke-width="1.6"/>
<line x1="302.0" y1="503" x2="302.0" y2="508.9" stroke="#000" stroke-width="1.6"/>
<line x1="337.1" y1="503" x2="337.1" y2="508.9" stroke="#000" stroke-width="1.6"/>
<line x1="371.0" y1="503" x2="371.0" y2="508.9" stroke="#000" stroke-width="1.6"/>
<line x1="406.0" y1="503" x2="406.0" y2="508.9" stroke="#000" stroke-width="1.6"/>
<line x1="439.9" y1="503" x2="439.9" y2="512.8" stroke="#000" stroke-width="2"/>
<line x1="474.9" y1="503" x2="474.9" y2="508.9" stroke="#000" stroke-width="1.6"/>
<line x1="510.0" y1="503" x2="510.0" y2="508.9" stroke="#000" stroke-width="1.6"/>
<line x1="541.6" y1="503" x2="541.6" y2="508.9" stroke="#000" stroke-width="1.6"/>
<line x1="576.7" y1="503" x2="576.7" y2="508.9" stroke="#000" stroke-width="1.6"/>
<line x1="610.6" y1="503" x2="610.6" y2="508.9" stroke="#000" stroke-width="1.6"/>
<line x1="645.6" y1="503" x2="645.6" y2="512.8" stroke="#000" stroke-width="2"/>
<line x1="679.5" y1="503" x2="679.5" y2="508.9" stroke="#000" stroke-width="1.6"/>
<line x1="714.5" y1="503" x2="714.5" y2="508.9" stroke="#000" stroke-width="1.6"/>
<line x1="749.6" y1="503" x2="749.6" y2="508.9" stroke="#000" stroke-width="1.6"/>
<line x1="783.5" y1="503" x2="783.5" y2="508.9" stroke="#000" stroke-width="1.6"/>
<line x1="818.5" y1="503" x2="818.5" y2="508.9" stroke="#000" stroke-width="1.6"/>
<line x1="852.4" y1="503" x2="852.4" y2="512.8" stroke="#000" stroke-width="2"/>
<line x1="887.4" y1="503" x2="887.4" y2="508.9" stroke="#000" stroke-width="1.6"/>
<line x1="922.5" y1="503" x2="922.5" y2="508.9" stroke="#000" stroke-width="1.6"/>
<line x1="954.1" y1="503" x2="954.1" y2="508.9" stroke="#000" stroke-width="1.6"/>
<line x1="989.1" y1="503" x2="989.1" y2="508.9" stroke="#000" stroke-width="1.6"/>
<text transform="translate(54.7,137.8) scale(1.1029,1)" font-size="25.65" stroke="#000" stroke-width="0.3">40000</text>
<text transform="translate(54.7,228.8) scale(1.1029,1)" font-size="25.65" stroke="#000" stroke-width="0.3">30000</text>
<text transform="translate(54.7,319.8) scale(1.1029,1)" font-size="25.65" stroke="#000" stroke-width="0.3">20000</text>
<text transform="translate(54.59,410.8) scale(1.1044,1)" font-size="25.65" stroke="#000" stroke-width="0.3">10000</text>
<text transform="translate(119.54,501.8) scale(1.0583,1)" font-size="25.65" stroke="#000" stroke-width="0.3">0</text>
<text transform="translate(182.2,541.8) scale(1.1011,1)" font-size="25.51" stroke="#000" stroke-width="0.3">06/2024</text>
<text transform="translate(388.51,541.8) scale(1.0956,1)" font-size="25.51" stroke="#000" stroke-width="0.3">12/2024</text>
<text transform="translate(594.59,541.8) scale(1.1133,1)" font-size="25.51" stroke="#000" stroke-width="0.3">06/2025</text>
<text transform="translate(800.88,541.8) scale(1.1079,1)" font-size="25.51" stroke="#000" stroke-width="0.3">12/2025</text>
<text transform="translate(517.87,577.2) scale(1.0641,1)" font-size="25.65" stroke="#000" stroke-width="0.3">Month/Year</text>
<text transform="translate(38,410.5) rotate(-90) translate(-2.14,0) scale(1.0698,1)" font-size="25.94" stroke="#000" stroke-width="0.3">Max. nr. of Obs.</text>
<text transform="translate(996.1,135.5) rotate(90) translate(-1.6,0) scale(0.7979,1)" font-size="24.35" stroke="#000" stroke-width="0.3">Now</text>
<rect x="67.7" y="598.5" width="949.6" height="79.8" rx="4.5" fill="#fff" stroke="#d5d5d5" stroke-width="2.4"/>
<circle cx="90.5" cy="618.5" r="4.05" fill="#ff4ccc"/>
<circle cx="90.5" cy="654.4" r="4.05" fill="#fdb700"/>
<circle cx="249.5" cy="618.5" r="4.05" fill="#339933"/>
<circle cx="249.5" cy="654.4" r="4.05" fill="#b40000"/>
<circle cx="392.5" cy="618.5" r="4.05" fill="#000096"/>
<circle cx="533.5" cy="618.5" r="4.05" fill="#807dba"/>
<circle cx="717.4" cy="618.5" r="4.05" fill="#660066"/>
<circle cx="900.6" cy="618.5" r="4.05" fill="#1e0019"/>
<text transform="translate(104.92,626.8) scale(0.9833,1)" font-size="25.22" stroke="#000" stroke-width="0.3">QZSS</text>
<text transform="translate(104.41,662.7) scale(0.9959,1)" font-size="25.22" stroke="#000" stroke-width="0.3">BDS</text>
<text transform="translate(265.22,626.8) scale(0.9796,1)" font-size="25.22" stroke="#000" stroke-width="0.3">GAL</text>
<text transform="translate(265.24,662.7) scale(0.9569,1)" font-size="25.22" stroke="#000" stroke-width="0.3">GLO</text>
<text transform="translate(408.28,626.8) scale(0.9196,1)" font-size="25.22" stroke="#000" stroke-width="0.3">GPS</text>
<text transform="translate(549.21,626.8) scale(0.9966,1)" font-size="25.22" stroke="#000" stroke-width="0.3">RINEX2</text>
<text transform="translate(731.49,626.8) scale(1.0068,1)" font-size="25.22" stroke="#000" stroke-width="0.3">RINEX3</text>
<text transform="translate(914.8,626.8) scale(0.9977,1)" font-size="25.22" stroke="#000" stroke-width="0.3">RINEX4</text>
<text transform="translate(65.61,709.9) scale(1.0931,1)" font-size="20.14" font-style="italic" stroke="#000" stroke-width="0.3">Tue Mar 24 12:43:02 2026</text>
<text transform="translate(869.12,709.2) scale(0.9812,1)" font-size="20.0" font-style="italic" stroke="#000" stroke-width="0.3">©GNSS@ROB</text>
</g></svg>
</body></html>
